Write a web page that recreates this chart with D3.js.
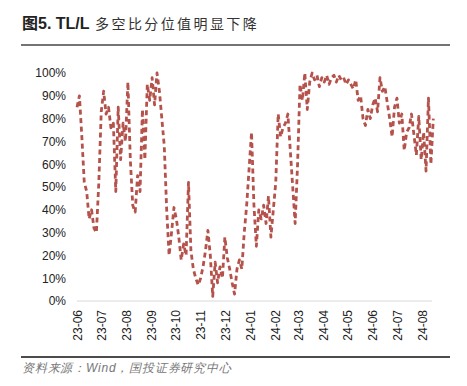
<!DOCTYPE html>
<html>
<head>
<meta charset="utf-8">
<script src="https://cdn.jsdelivr.net/npm/d3@7"></script>
<style>
  body { margin: 0; background: #fff; }
  text { font-family: "Liberation Sans", Arial, sans-serif; }
</style>
</head>
<body>
<svg id="chart" width="467" height="386"></svg>
<script>
// values, one every 3 calendar days from 2023-06-01
var startDate = "2023-06-01";
var stepDays = 3;
var ratio = [85,90,72,52,48,36,40,32,30,52,
	83,92,82,85,76,78,48,85,62,78,
	70,96,62,42,39,55,48,84,62,95,
	88,98,86,100,92,80,68,40,20,30,
	41,36,28,18,25,20,52,22,14,10,
	7,10,15,22,31,20,2,17,8,15,
	10,28,19,14,8,3,14,18,14,30,
	42,58,74,42,24,40,36,42,34,46,
	28,40,52,82,72,76,78,82,66,50,
	34,60,95,88,100,84,96,100,97,99,
	94,98,96,99,95,98,99,96,99,97,
	98,95,97,95,93,97,88,90,80,77,
	84,80,86,89,83,98,92,94,87,80,
	72,85,89,78,82,66,74,76,82,73,
	64,81,62,74,57,89,60,80];
var monthTicks = ["2023-06-01","2023-07-01","2023-08-01","2023-09-01","2023-10-01","2023-11-01","2023-12-01",
	"2024-01-01","2024-02-01","2024-03-01","2024-04-01","2024-05-01","2024-06-01","2024-07-01","2024-08-01"];
var yTicks = [0,10,20,30,40,50,60,70,80,90,100];

var parse = d3.timeParse("%Y-%m-%d");
var t0 = parse(startDate);
var data = ratio.map(function(v,i){ return {date: d3.timeDay.offset(t0, i*stepDays), value: v}; });

var svg = d3.select("#chart");

var x = d3.scaleTime()
	.domain([parse("2023-06-01"), parse("2024-08-01")])
	.range([77, 422]);
var y = d3.scaleLinear()
	.domain([0,100])
	.range([301, 73]);

// title
svg.append("text")
	.attr("x", 22).attr("y", 29)
	.attr("font-size", 16)
	.attr("fill", "#222")
	.html('<tspan font-weight="bold" font-family="Noto Sans CJK SC">图</tspan><tspan font-weight="bold">5. TL/L</tspan><tspan font-family="Noto Sans CJK SC" font-size="14" fill="#333" letter-spacing="2.4"> 多空比分位值明显下降</tspan>');
svg.append("line")
	.attr("x1", 21).attr("x2", 450).attr("y1", 45).attr("y2", 45)
	.attr("stroke", "#444").attr("stroke-width", 1.5);

// y axis labels
var yaxis = d3.axisLeft(y)
	.tickValues(yTicks)
	.tickSize(0)
	.tickPadding(0)
	.tickFormat(function(d){ return d + "%"; });
var gy = svg.append("g")
	.attr("transform", "translate(66,0)")
	.call(yaxis);
gy.select(".domain").remove();
gy.selectAll("text").attr("font-size", 12).attr("fill", "#222").attr("font-family", "Liberation Sans, Arial");

// x axis
var xaxis = d3.axisBottom(x)
	.tickValues(monthTicks.map(parse))
	.tickSize(0)
	.tickPadding(0)
	.tickFormat(d3.timeFormat("%y-%m"));
var gx = svg.append("g")
	.attr("transform", "translate(0,301)")
	.call(xaxis);
gx.select(".domain").attr("d", "M77,0H432").attr("stroke", "#d9d9d9").attr("stroke-width", 1.2);
gx.selectAll("text")
	.attr("font-size", 12).attr("fill", "#222").attr("font-family", "Liberation Sans, Arial")
	.attr("text-anchor", "end")
	.attr("dy", "0.35em")
	.attr("transform", "translate(0,9) rotate(-90)");

// the series
var line = d3.line()
	.x(function(d){ return x(d.date); })
	.y(function(d){ return y(d.value); });
svg.append("path")
	.datum(data)
	.attr("d", line)
	.attr("fill", "none")
	.attr("stroke", "#b4524b")
	.attr("stroke-width", 2.8)
	.attr("stroke-dasharray", "5,3.5")
	.attr("stroke-linejoin", "round");

// footer
svg.append("line")
	.attr("x1", 21).attr("x2", 450).attr("y1", 357).attr("y2", 357)
	.attr("stroke", "#111").attr("stroke-width", 1.5);
svg.append("text")
	.attr("x", 22).attr("y", 372)
	.attr("font-size", 12)
	.attr("font-style", "italic")
	.attr("fill", "#777")
	.attr("letter-spacing", 0.8)
	.attr("font-family", "Noto Sans CJK SC")
	.text("资料来源：Wind，国投证券研究中心");
</script>
</body>
</html>
